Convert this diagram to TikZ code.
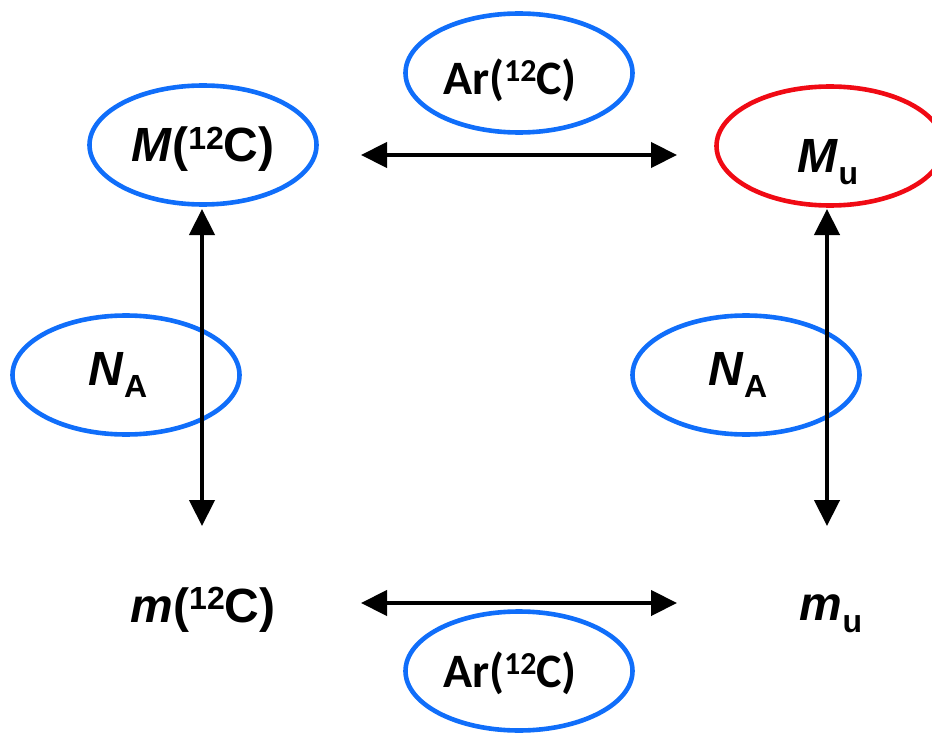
\documentclass[tikz,border=0pt]{standalone}
\usepackage{fontspec}
\setmainfont{Liberation Sans}
\newfontfamily\calfont{Carlito}
\usetikzlibrary{shapes.geometric,arrows.meta}
\definecolor{ellblue}{RGB}{16,110,250}
\definecolor{ellred}{RGB}{240,10,20}
\newcommand\bigtxt{\fontsize{48}{56}\selectfont\bfseries}
\newcommand\supn[1]{\raisebox{13pt}{\fontsize{32}{34}\selectfont #1}}
\newcommand\subn[1]{\raisebox{-12pt}{\fontsize{32}{34}\selectfont #1}}
\tikzset{
  ell/.style={ellipse, draw=ellblue, line width=4.6pt, minimum width=227pt, minimum height=119pt, inner sep=0pt},
  lbl/.style={inner sep=0pt, anchor=base, font=\bigtxt},
  conn/.style={line width=4.4pt, {Triangle[length=26pt,width=25pt]}-{Triangle[length=26pt,width=25pt]}}
}
\begin{document}
\begin{tikzpicture}[x=1pt,y=-1pt]
\useasboundingbox (0,0) rectangle (932,733);
% ellipses
\node[ell] (M12) at (203,145) {};
\node[ell] (ArT) at (519,73) {};
\node[ell, draw=ellred] (Mu) at (830,146) {};
\node[ell] (NAL) at (126,375) {};
\node[ell] (NAR) at (746,375) {};
\node[ell] (ArB) at (519,671) {};
% texts
\node[lbl] (M12t) at (203,162) {\textit{M}(\supn{12}C)};
\node[lbl] (ArTt) at (510,95) {\calfont Ar(\supn{12}C)};
\node[lbl] (Mut) at (828,172) {\textit{M}\subn{u}};
\node[lbl] (NALt) at (118,385) {\textit{N}\subn{A}};
\node[lbl] (NARt) at (738,385) {\textit{N}\subn{A}};
\node[lbl] (ArBt) at (510,687) {\calfont Ar(\supn{12}C)};
\node[lbl] (m12) at (203,622) {\textit{m}(\supn{12}C)};
\node[lbl] (mu) at (831,620) {\textit{m}\subn{u}};
% arrow ends
\coordinate (t1) at (361,155);
\coordinate (t2) at (677,155);
\coordinate (b1) at (361,603);
\coordinate (b2) at (677,603);
\coordinate (l1) at (202,209);
\coordinate (l2) at (202,526);
\coordinate (r1) at (827,209);
\coordinate (r2) at (827,526);
\draw[conn] (t1) -- (t2);
\draw[conn] (b1) -- (b2);
\draw[conn] (l1) -- (l2);
\draw[conn] (r1) -- (r2);
\end{tikzpicture}
\end{document}
